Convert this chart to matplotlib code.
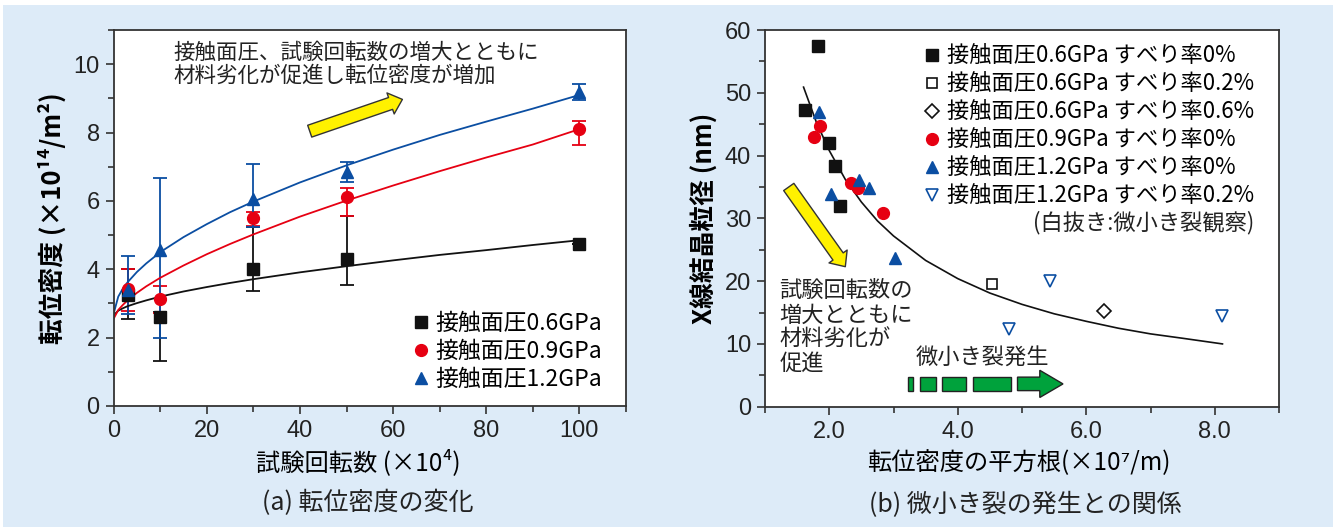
import matplotlib
matplotlib.use("Agg")
import matplotlib.pyplot as plt
from matplotlib.patches import Rectangle, Polygon
from matplotlib.ticker import MultipleLocator, FormatStrFormatter

plt.rcParams['font.family'] = ['Noto Sans CJK JP', 'DejaVu Sans']

# ---- (a) dislocation density vs. number of cycles ----
cycles = [3, 10, 30, 50, 100]
p06 = [3.25, 2.6, 4.0, 4.3, 4.75]
p06_lo = [2.55, 1.32, 3.37, 3.55, 4.75]
p06_hi = [4.0, 2.75, 5.25, 5.55, 4.75]
p09 = [3.42, 3.13, 5.5, 6.1, 8.1]
p09_lo = [2.78, 2.73, 5.28, 5.55, 7.65]
p09_hi = [4.0, 3.52, 5.67, 6.37, 8.35]
p12 = [3.4, 4.57, 6.05, 6.85, 9.18]
p12_lo = [2.69, 1.99, 5.23, 6.56, 8.94]
p12_hi = [4.38, 6.68, 7.08, 7.15, 9.43]

# fitted trend curves
fit_x = [0, 1, 2, 3, 5, 7, 10, 15, 20, 25, 30, 40, 50, 60, 70, 80, 90, 100]
fit06 = [2.65, 2.79, 2.86, 2.92, 3.01, 3.09, 3.2, 3.35, 3.48, 3.6, 3.71, 3.91, 4.09, 4.26, 4.42, 4.56, 4.71, 4.85]
fit09 = [2.55, 2.81, 2.96, 3.09, 3.31, 3.5, 3.75, 4.11, 4.44, 4.74, 5.02, 5.54, 6.01, 6.45, 6.87, 7.27, 7.65, 8.1]
fit12 = [2.7, 3.2, 3.44, 3.62, 3.92, 4.17, 4.5, 4.94, 5.32, 5.67, 5.98, 6.54, 7.04, 7.5, 7.93, 8.32, 8.7, 9.1]

# ---- (b) crystallite size vs. sqrt(dislocation density) ----
sq06_0_x = [1.82, 1.62, 2.0, 2.085, 2.17]
sq06_0_y = [57.5, 47.3, 42.0, 38.3, 31.9]
sq06_02_x = [4.54]
sq06_02_y = [19.5]
sq06_06_x = [6.27]
sq06_06_y = [15.2]
sq09_0_x = [1.77, 1.85, 2.34, 2.45, 2.84]
sq09_0_y = [42.9, 44.7, 35.6, 34.9, 30.9]
sq12_0_x = [1.84, 2.02, 2.46, 2.62, 3.03]
sq12_0_y = [46.9, 33.8, 36.1, 34.9, 23.7]
sq12_02_x = [5.43, 4.80, 8.12]
sq12_02_y = [20.0, 12.3, 14.4]

curve_x = [1.6, 1.8, 2.0, 2.25, 2.5, 2.75, 3.0, 3.5, 4.0, 4.5, 5.0, 5.5, 6.0, 6.5, 7.0, 7.5, 8.12]
curve_y = [50.9, 45.3, 40.8, 36.2, 32.6, 29.6, 27.2, 23.3, 20.4, 18.1, 16.3, 14.8, 13.6, 12.5, 11.6, 10.9, 10.0]

BLACK = '#111111'
RED = '#E60012'
BLUE = '#0B4EA2'
BG = '#DDEBF8'
JP = ['Noto Sans CJK JP', 'DejaVu Sans']
NUM = ['Liberation Sans', 'DejaVu Sans']

fig = plt.figure(figsize=(13.33, 5.27), dpi=100, facecolor='white')
fig.patches.append(Rectangle((3 / 1333, 0), 1, (527 - 5) / 527, transform=fig.transFigure,
                             facecolor=BG, edgecolor='none', zorder=-10))

ax1 = fig.add_axes([113.6 / 1333, 121 / 527, 512.4 / 1333, 376 / 527])
ax2 = fig.add_axes([765 / 1333, 120.3 / 527, 514 / 1333, 376.7 / 527])


def style_axes(ax):
    for s in ax.spines.values():
        s.set_color('#333333')
        s.set_linewidth(1.3)
    ax.tick_params(which='major', direction='out', length=6, width=1.2, color='#333333',
                   labelsize=17, pad=4)
    ax.tick_params(which='minor', direction='out', length=4, width=1.2, color='#333333')
    for lab in ax.get_xticklabels() + ax.get_yticklabels():
        lab.set_family(NUM)
        lab.set_color('#222222')


# ----- panel (a) -----
for y, lo, hi, c in [(p06, p06_lo, p06_hi, BLACK), (p09, p09_lo, p09_hi, RED), (p12, p12_lo, p12_hi, BLUE)]:
    err = [[v - l for v, l in zip(y, lo)], [h - v for v, h in zip(y, hi)]]
    ax1.errorbar(cycles, y, yerr=err, fmt='none', ecolor=c, elinewidth=1.3, capsize=5, capthick=1.3)

ax1.plot(fit_x, fit06, color=BLACK, lw=1.3)
ax1.plot(fit_x, fit09, color=RED, lw=1.3)
ax1.plot(fit_x, fit12, color=BLUE, lw=1.3)

ax1.plot(cycles, p06, 's', color=BLACK, ms=8, label='接触面圧0.6GPa')
ax1.plot(cycles, p09, 'o', color=RED, ms=8.5, label='接触面圧0.9GPa')
ax1.plot(cycles, p12, '^', color=BLUE, ms=9, label='接触面圧1.2GPa')

ax1.set_xlim(0, 110)
ax1.set_ylim(0, 11)
ax1.xaxis.set_major_locator(MultipleLocator(20))
ax1.xaxis.set_minor_locator(MultipleLocator(10))
ax1.yaxis.set_major_locator(MultipleLocator(2))
ax1.yaxis.set_minor_locator(MultipleLocator(1))
style_axes(ax1)

ax1.set_xlabel('試験回転数 (×10⁴)', fontsize=17.5, family=JP, labelpad=4)
ax1.xaxis.set_label_coords(0.477, -0.115)
ax1.set_ylabel('転位密度 (×10¹⁴/m²)', fontsize=18.5, family=JP, fontweight='bold', labelpad=5)

ax1.legend(loc='upper left', bbox_to_anchor=(0.585, 0.25), frameon=False,
           handlelength=0.7, handletextpad=0.25, labelspacing=0.22, borderpad=0,
           borderaxespad=0, prop={'family': JP, 'size': 16.5})

ax1.text(12.8, 10.0, '接触面圧、試験回転数の増大とともに\n材料劣化が促進し転位密度が増加',
         fontsize=15.5, family=JP, va='center', ha='left', linespacing=1.0, color='#222222')
ax1.annotate('', xy=(62.0, 8.97), xytext=(42.1, 8.04),
             arrowprops=dict(arrowstyle='simple,head_length=0.45,head_width=0.8,tail_width=0.45',
                             fc='#FFF100', ec='#333333', lw=1, mutation_scale=20,
                             shrinkA=0, shrinkB=0))

# ----- panel (b) -----
ax2.plot(curve_x, curve_y, color=BLACK, lw=1.2)
ax2.plot(sq06_0_x, sq06_0_y, 's', color=BLACK, ms=8, ls='none', label='接触面圧0.6GPa すべり率0%')
ax2.plot(sq06_02_x, sq06_02_y, 's', mfc='white', mec=BLACK, mew=1.2, ms=7.5, ls='none',
         label='接触面圧0.6GPa すべり率0.2%')
ax2.plot(sq06_06_x, sq06_06_y, 'D', mfc='white', mec=BLACK, mew=1.2, ms=7.5, ls='none',
         label='接触面圧0.6GPa すべり率0.6%')
ax2.plot(sq09_0_x, sq09_0_y, 'o', color=RED, ms=8.5, ls='none', label='接触面圧0.9GPa すべり率0%')
ax2.plot(sq12_0_x, sq12_0_y, '^', color=BLUE, ms=9, ls='none', label='接触面圧1.2GPa すべり率0%')
ax2.plot(sq12_02_x, sq12_02_y, 'v', mfc='white', mec=BLUE, mew=1.2, ms=9, ls='none',
         label='接触面圧1.2GPa すべり率0.2%')

ax2.set_xlim(1, 9)
ax2.set_ylim(0, 60)
ax2.xaxis.set_major_locator(MultipleLocator(2))
ax2.xaxis.set_minor_locator(MultipleLocator(1))
ax2.xaxis.set_major_formatter(FormatStrFormatter('%.1f'))
ax2.yaxis.set_major_locator(MultipleLocator(10))
ax2.yaxis.set_minor_locator(MultipleLocator(5))
style_axes(ax2)

ax2.set_xlabel('転位密度の平方根(×10⁷/m)', fontsize=17.5, family=JP, labelpad=4)
ax2.xaxis.set_label_coords(0.494, -0.115)
ax2.set_ylabel('X線結晶粒径 (nm)', fontsize=18.5, family=JP, fontweight='bold', labelpad=5)

ax2.legend(loc='upper left', bbox_to_anchor=(0.31, 0.96), frameon=False,
           handlelength=0.7, handletextpad=0.3, labelspacing=0.22, borderpad=0,
           borderaxespad=0, prop={'family': JP, 'size': 16})

ax2.text(5.17, 29.3, '(白抜き:微小き裂観察)', fontsize=16, family=JP, va='center', ha='left',
         color='#222222')
ax2.text(1.22, 20.3, '試験回転数の\n増大とともに\n材料劣化が\n促進', fontsize=16, family=JP,
         va='top', ha='left', linespacing=1.07, color='#222222')
ax2.text(3.35, 7.8, '微小き裂発生', fontsize=16, family=JP, va='center', ha='left', color='#222222')

ax2.annotate('', xy=(2.25, 22.3), xytext=(1.37, 35.0),
             arrowprops=dict(arrowstyle='simple,head_length=0.45,head_width=0.8,tail_width=0.45',
                             fc='#FFF100', ec='#333333', lw=1, mutation_scale=20,
                             shrinkA=0, shrinkB=0))

# dashed green block arrow
GREEN = '#00A23C'
for x0, x1 in [(3.226, 3.303), (3.408, 3.661), (3.761, 4.135), (4.230, 4.829)]:
    ax2.add_patch(Rectangle((x0, 2.56), x1 - x0, 2.15, facecolor=GREEN, edgecolor='#222222',
                            lw=1.0, zorder=3))
ax2.add_patch(Polygon([(4.930, 2.56), (5.277, 2.56), (5.277, 1.47), (5.638, 3.63),
                       (5.277, 5.8), (5.277, 4.71), (4.930, 4.71)], closed=True,
                      facecolor=GREEN, edgecolor='#222222', lw=1.0, zorder=3))

fig.text(368 / 1333, 1 - 503 / 527, '(a) 転位密度の変化', fontsize=18, family=JP,
         ha='center', va='center', color='#222222')
fig.text(1025 / 1333, 1 - 505 / 527, '(b) 微小き裂の発生との関係', fontsize=18, family=JP,
         ha='center', va='center', color='#222222')

fig.savefig('out.png', dpi=100, facecolor=fig.get_facecolor())
